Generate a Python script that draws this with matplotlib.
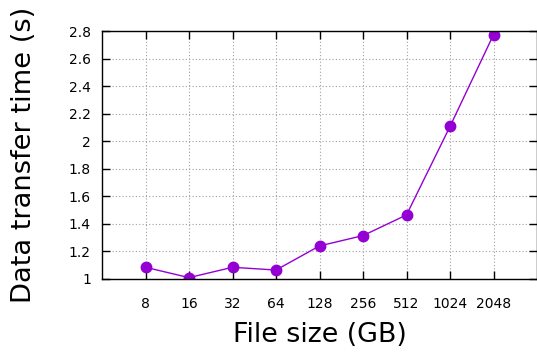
import numpy as np
import matplotlib.pyplot as plt

# file sizes (GB) and measured transfer time (s)
sizes = ['8', '16', '32', '64', '128', '256', '512', '1024', '2048']
times = [1.085, 1.01, 1.085, 1.065, 1.24, 1.315, 1.465, 2.107, 2.773]

fig = plt.figure(figsize=(5.37, 3.52), dpi=100)
ax = fig.add_axes([102 / 537, 1 - 279 / 352, 435 / 537, 248 / 352])

x = np.arange(len(sizes))
ax.plot(x, times, '-o', color='#9400d3', linewidth=1, markersize=7.5)

ax.set_xlim(-1, len(sizes))
ax.set_ylim(1, 2.8)
ax.set_xticks(x)
ax.set_xticklabels(sizes)
ax.set_yticks(np.arange(1, 2.81, 0.2))
ax.set_yticklabels(['1', '1.2', '1.4', '1.6', '1.8', '2', '2.2', '2.4', '2.6', '2.8'])

ax.grid(True, linestyle=(0, (1, 2)), color='#a0a0a0', linewidth=0.8)
ax.tick_params(direction='in', top=True, right=True, length=6, width=1,
               labelsize=10)
ax.tick_params(axis='x', pad=13)
ax.tick_params(axis='y', pad=8)
for s in ax.spines.values():
    s.set_linewidth(1)

ax.set_xlabel('File size (GB)', fontsize=19.4, labelpad=8)
ax.set_ylabel('Data transfer time (s)', fontsize=19.6, labelpad=23)

fig.savefig('out.png', dpi=100)
